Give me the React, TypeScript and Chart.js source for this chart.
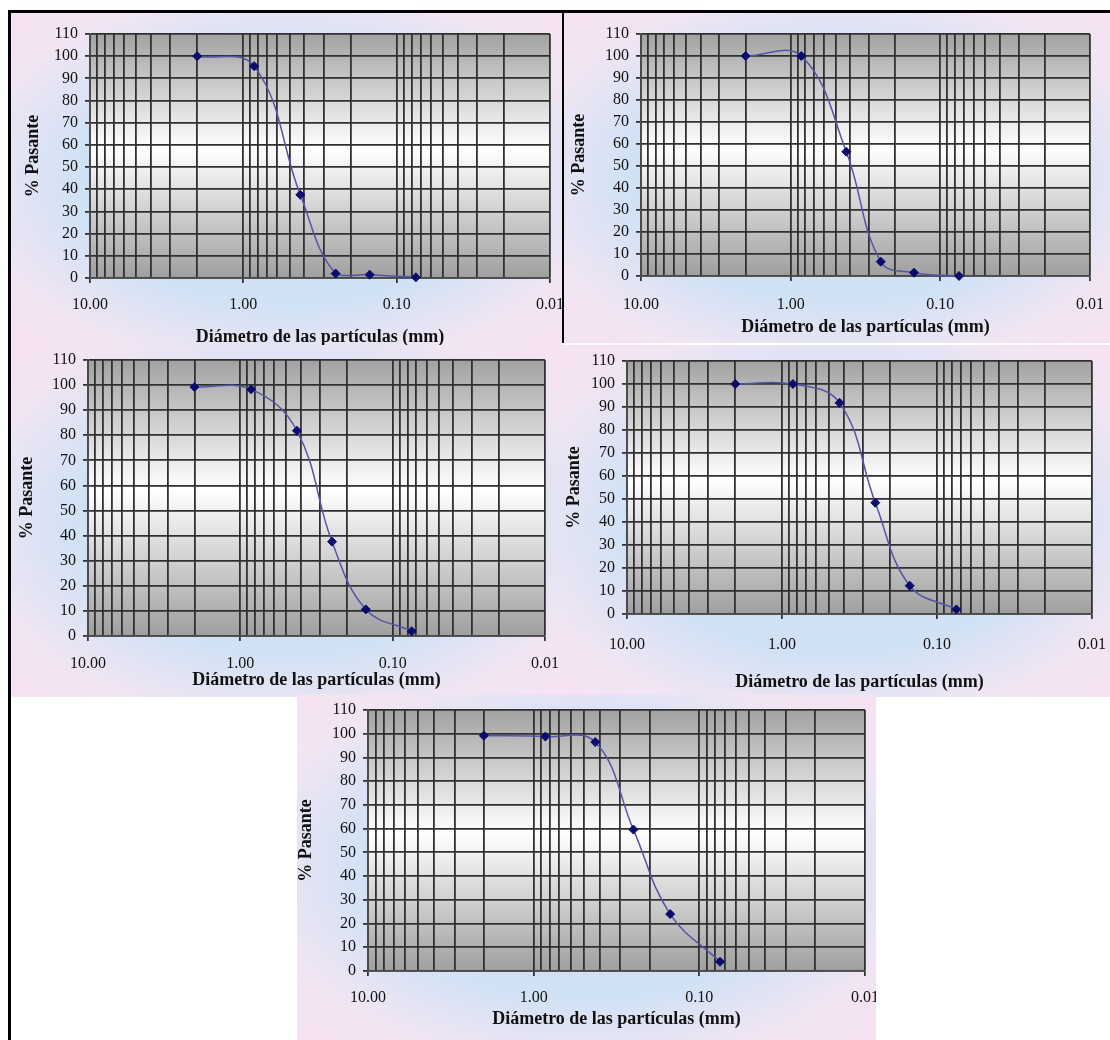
import React, { useEffect, useRef } from 'react';
import { Chart, registerables } from 'chart.js';

Chart.register(...registerables);

// ---- data ----
const sieveSizesMm = [2.0, 0.85, 0.425, 0.25, 0.15, 0.075];
const passingA = [100, 95.5, 37.5, 2.0, 1.5, 0.3];
const passingB = [100, 100, 56.5, 6.5, 1.5, 0.0];
const passingC = [99.2, 98.3, 81.8, 37.6, 10.6, 1.9];
const passingD = [100, 100, 91.8, 48.4, 12.3, 2.0];
const passingE = [99.2, 98.8, 96.5, 59.6, 24.0, 3.9];

const xGridValues = [
  10, 9, 8, 7, 6, 5, 4, 3, 2,
  1, 0.9, 0.8, 0.7, 0.6, 0.5, 0.4, 0.3, 0.2,
  0.1, 0.09, 0.08, 0.07, 0.06, 0.05, 0.04, 0.03, 0.02,
  0.01,
];
const xLabelValues = [10, 1, 0.1, 0.01];
const yTickValues = [0, 10, 20, 30, 40, 50, 60, 70, 80, 90, 100, 110];
const xAxisTitle = 'Diámetro de las partículas (mm)';
const yAxisTitle = '% Pasante';

// ---- layout (page coordinates) ----
type Spec = {
  x: number; y: number; w: number; h: number;
  plotL: number; plotR: number; plotT: number; plotB: number;
  yTitleCx: number; xLabelCy: number; xTitleCy: number;
};

const panels: { spec: Spec; values: number[] }[] = [
  { spec: { x: 11, y: 13, w: 551, h: 332, plotL: 90, plotR: 550, plotT: 34, plotB: 278, yTitleCx: 33, xLabelCy: 305, xTitleCy: 337 }, values: passingA },
  { spec: { x: 564, y: 13, w: 546, h: 330, plotL: 641, plotR: 1090, plotT: 34, plotB: 276, yTitleCx: 579, xLabelCy: 305, xTitleCy: 327 }, values: passingB },
  { spec: { x: 11, y: 345, w: 549, h: 352, plotL: 88, plotR: 545, plotT: 355, plotB: 636, yTitleCx: 27, xLabelCy: 664, xTitleCy: 680 }, values: passingC },
  { spec: { x: 560, y: 345, w: 550, h: 352, plotL: 627, plotR: 1092, plotT: 361, plotB: 614, yTitleCx: 574, xLabelCy: 645, xTitleCy: 682 }, values: passingD },
  { spec: { x: 297, y: 694, w: 579, h: 346, plotL: 368, plotR: 865, plotT: 710, plotB: 971, yTitleCx: 306, xLabelCy: 998, xTitleCy: 1019 }, values: passingE },
];

const SERIF = "'Liberation Serif', 'Times New Roman', serif";
const TICK_SIZE = 16;
const TITLE_SIZE = 18;
const TICK_LEN = 5;
const GRID_COLOR = '#303030';
const EXTRA_W = 34;

const isDecade = (v: number) => xLabelValues.some((d) => Math.abs(d - v) < 1e-9);

const plotBgPlugin = {
  id: 'plotBg',
  beforeDraw(chart: any) {
    const { ctx, chartArea: a } = chart;
    if (!a) return;
    const g = ctx.createLinearGradient(0, a.top, 0, a.bottom);
    g.addColorStop(0, '#a2a2a2');
    g.addColorStop(0.47, '#ffffff');
    g.addColorStop(1, '#9f9f9f');
    ctx.save();
    ctx.fillStyle = g;
    ctx.fillRect(a.left, a.top, a.right - a.left, a.bottom - a.top);
    ctx.restore();
  },
};

function makeConfig(p: Spec, values: number[]): any {
  const canvasW = p.plotR - p.x + EXTRA_W;
  const yAxisW = p.plotL - p.x;
  const xAxisH = p.y + p.h - p.plotB;
  const xTitlePadBottom = p.y + p.h - p.xTitleCy - TITLE_SIZE / 2;
  const yTitlePadTop = Math.max(0, p.yTitleCx - p.x - TITLE_SIZE / 2);
  const xTickPad = p.xLabelCy - p.plotB - TICK_LEN - TICK_SIZE / 2;

  return {
    type: 'line',
    data: {
      datasets: [
        {
          data: sieveSizesMm.map((s, i) => ({ x: s, y: values[i] })),
          borderColor: '#5555a8',
          borderWidth: 1.5,
          tension: 0.4,
          fill: false,
          pointStyle: 'rectRot',
          pointRadius: 4.5,
          pointBackgroundColor: '#0b0b70',
          pointBorderColor: '#0b0b70',
          pointBorderWidth: 1,
          clip: false,
        },
      ],
    },
    options: {
      responsive: false,
      animation: false,
      devicePixelRatio: 1,
      layout: {
        padding: { left: 0, top: p.plotT - p.y, right: canvasW - (p.plotR - p.x), bottom: 0 },
      },
      plugins: { legend: { display: false }, tooltip: { enabled: false } },
      scales: {
        x: {
          type: 'logarithmic',
          reverse: true,
          min: 0.01,
          max: 10,
          afterBuildTicks: (s: any) => {
            s.ticks = xGridValues.map((v) => ({ value: v }));
          },
          afterFit: (s: any) => {
            s.height = xAxisH;
          },
          ticks: {
            autoSkip: false,
            maxRotation: 0,
            minRotation: 0,
            padding: xTickPad,
            color: '#111',
            font: { family: SERIF, size: TICK_SIZE, lineHeight: 1 },
            callback: (v: any) => (isDecade(Number(v)) ? Number(v).toFixed(2) : ''),
          },
          grid: {
            color: GRID_COLOR,
            lineWidth: 1.8,
            tickLength: TICK_LEN,
            tickColor: (c: any) => (c.tick && isDecade(c.tick.value) ? '#333' : 'rgba(0,0,0,0)'),
          },
          border: { display: true, color: '#4a4a4a', width: 1.5 },
          title: {
            display: true,
            text: xAxisTitle,
            color: '#111',
            font: { family: SERIF, size: TITLE_SIZE, weight: 'bold', lineHeight: 1 },
            padding: { top: 0, bottom: xTitlePadBottom },
          },
        },
        y: {
          type: 'linear',
          min: 0,
          max: 110,
          afterBuildTicks: (s: any) => {
            s.ticks = yTickValues.map((v) => ({ value: v }));
          },
          afterFit: (s: any) => {
            s.width = yAxisW;
          },
          ticks: {
            padding: 7,
            color: '#111',
            font: { family: SERIF, size: TICK_SIZE, lineHeight: 1 },
            callback: (v: any) => String(v),
          },
          grid: {
            color: GRID_COLOR,
            lineWidth: 1.8,
            tickLength: TICK_LEN,
            tickColor: '#333',
          },
          border: { display: true, color: '#4a4a4a', width: 1.5 },
          title: {
            display: true,
            text: yAxisTitle,
            color: '#111',
            font: { family: SERIF, size: TITLE_SIZE, weight: 'bold', lineHeight: 1 },
            padding: { top: yTitlePadTop, bottom: 0 },
          },
        },
      },
    },
    plugins: [plotBgPlugin],
  };
}

const panelBg =
  'radial-gradient(ellipse farthest-corner at 50% 50%, #c9dcf2 0%, #d2e2f5 55%, #f2e5f3 82%, #f6e2f2 100%)';

function Panel({ spec, values }: { spec: Spec; values: number[] }) {
  const ref = useRef<HTMLCanvasElement>(null);
  useEffect(() => {
    const chart = new Chart(ref.current as HTMLCanvasElement, makeConfig(spec, values));
    return () => chart.destroy();
  }, [spec, values]);
  const canvasW = spec.plotR - spec.x + EXTRA_W;
  return (
    <div
      style={{
        position: 'absolute',
        left: spec.x,
        top: spec.y,
        width: spec.w,
        height: spec.h,
        overflow: 'hidden',
        background: panelBg,
      }}
    >
      <canvas
        ref={ref}
        width={canvasW}
        height={spec.h}
        style={{ position: 'absolute', left: 0, top: 0, width: canvasW, height: spec.h }}
      />
    </div>
  );
}

export default function App() {
  return (
    <div
      style={{
        position: 'fixed',
        left: 0,
        top: 0,
        width: 1110,
        height: 1040,
        overflow: 'hidden',
        background: '#ffffff',
      }}
    >
      {panels.map((p, i) => (
        <Panel key={i} spec={p.spec} values={p.values} />
      ))}
      {/* outer frame lines */}
      <div style={{ position: 'absolute', left: 8, top: 10, width: 1102, height: 3, background: '#000' }} />
      <div style={{ position: 'absolute', left: 8, top: 10, width: 3, height: 1030, background: '#000' }} />
      <div style={{ position: 'absolute', left: 562, top: 10, width: 2, height: 333, background: '#000' }} />
    </div>
  );
}
